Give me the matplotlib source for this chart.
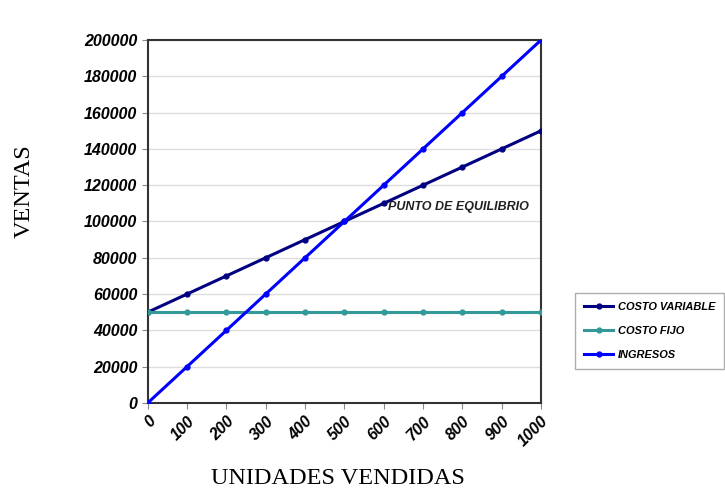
import matplotlib.pyplot as plt

unidades = [0, 100, 200, 300, 400, 500, 600, 700, 800, 900, 1000]
costo_variable = [50000, 60000, 70000, 80000, 90000, 100000, 110000, 120000, 130000, 140000, 150000]
costo_fijo = [50000] * 11
ingresos = [0, 20000, 40000, 60000, 80000, 100000, 120000, 140000, 160000, 180000, 200000]
yticks = list(range(0, 200001, 20000))

plt.rcParams['font.family'] = ['Liberation Sans', 'DejaVu Sans']

fig = plt.figure(figsize=(7.25, 4.9), dpi=100)
ax = fig.add_axes([0.204, 0.178, 0.542, 0.740])

ax.plot(unidades, costo_variable, color='#000080', lw=2.2, marker='o', ms=3.5, label='COSTO VARIABLE', zorder=3)
ax.plot(unidades, costo_fijo, color='#339999', lw=2.2, marker='o', ms=3.5, label='COSTO FIJO', zorder=3)
ax.plot(unidades, ingresos, color='#0000FF', lw=2.2, marker='o', ms=3.5, label='INGRESOS', zorder=4)

ax.set_xlim(0, 1000)
ax.set_ylim(0, 200000)
ax.set_xticks(unidades)
ax.set_yticks(yticks)
ax.set_xticklabels([str(u) for u in unidades], rotation=45, ha='right', rotation_mode='anchor',
                   fontsize=11.5, fontweight='bold', fontstyle='italic')
ax.set_yticklabels([str(v) for v in yticks], fontsize=11.5, fontweight='bold', fontstyle='italic')
ax.yaxis.grid(True, color='#dddddd', lw=1)
ax.set_axisbelow(True)
for s in ax.spines.values():
    s.set_color('#333333')
    s.set_linewidth(1.5)
ax.tick_params(direction='out', length=4, color='#888888')

ax.text(611, 108000, 'PUNTO DE EQUILIBRIO', fontsize=9, fontweight='bold', fontstyle='italic',
        color='#222222', va='center')

fig.text(0.033, 0.61, 'VENTAS', rotation=90, ha='center', va='center',
         fontsize=17.5, family=['Liberation Serif'])
fig.text(0.466, 0.024, 'UNIDADES VENDIDAS', ha='center', va='center',
         fontsize=17.5, family=['Liberation Serif'])

leg = fig.legend(loc='upper left', bbox_to_anchor=(0.793, 0.402), fancybox=False,
                 prop={'size': 7.9, 'weight': 'bold', 'style': 'italic'}, handlelength=2.7,
                 edgecolor='#999999', labelspacing=1.3, borderpad=0.8, handletextpad=0.4,
                 borderaxespad=0)
leg.get_frame().set_linewidth(1)

fig.savefig('out.png', dpi=100)
